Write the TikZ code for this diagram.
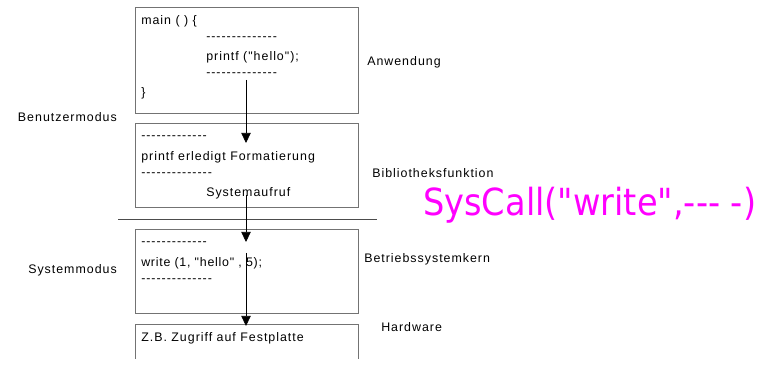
\documentclass[tikz,border=0pt]{standalone}
\usepackage{fontspec}
\setmainfont{Liberation Sans}[Ligatures=TeXOff, LetterSpace=8]
\newfontfamily\handfont{DejaVu Sans}
\usetikzlibrary{arrows.meta}
\definecolor{pen}{RGB}{255,0,255}

\begin{document}
\begin{tikzpicture}[x=0.75pt, y=-0.75pt, font=\fontsize{9.3}{11}\selectfont,
	box/.style={draw=black!55, line width=0.6pt, anchor=north west, minimum width=167.25pt, inner sep=0pt},
	txt/.style={anchor=west, inner sep=0pt},
	flow/.style={-{Triangle[length=7.5pt,width=7pt]}, line width=0.5pt}]
	\useasboundingbox (0,0) rectangle (765,366);
	% Schichten
	\node[box, minimum height=79.5pt] (anw) at (135,7) {};
	\node[box, minimum height=63pt] (bib) at (135,123) {};
	\node[box, minimum height=63pt] (bsk) at (135,229) {};
	\node[box, draw=none, minimum height=25.5pt] (hw) at (135,324) {};
	\draw[draw=black!55, line width=0.6pt] (hw.south west) -- (hw.north west) -- (hw.north east) -- (hw.south east);
	% Trennlinie Benutzer-/Systemmodus
	\coordinate (sepL) at (118,219);
	\coordinate (sepR) at (377,219);
	\draw[black!70, line width=0.7pt] (sepL) -- (sepR);
	% Anwendung
	\node[txt] (main) at (141,21) {main ( ) \{};
	\node[txt] (d1) at (206,39) {--------------};
	\node[txt] (pf) at (206,57) {printf ("hello");};
	\node[txt] (d2) at (206,75) {--------------};
	\node[txt] (cl) at (141,93) {\}};
	% Bibliothek
	\node[txt] (d3) at (141,138) {-------------};
	\node[txt] (fmt) at (141,157) {printf erledigt Formatierung};
	\node[txt] (d4) at (141,175) {--------------};
	\node[txt] (sys) at (206,193) {Systemaufruf};
	% Kern
	\node[txt] (d5) at (141,244) {-------------};
	\node[txt, font=\fontsize{9.3}{11}\selectfont\addfontfeature{LetterSpace=6}] (wr) at (141,263) {write (1, "hello" , 5);};
	\node[txt] (d6) at (141,281) {--------------};
	% Hardware
	\node[txt] (zb) at (141,338) {Z.B. Zugriff auf Festplatte};
	% Ebenen
	\node[txt] (lanw) at (367,62) {Anwendung};
	\node[txt] (lbib) at (372,173) {Bibliotheksfunktion};
	\node[txt] (lbsk) at (364,259) {Betriebssystemkern};
	\node[txt] (lhw) at (381,327) {Hardware};
	\node[anchor=east, inner sep=0pt] (ben) at (117,117) {Benutzermodus};
	\node[anchor=east, inner sep=0pt] (sm) at (117,270) {Systemmodus};
	% Aufrufkette
	\coordinate (a1) at (246,80);
	\coordinate (b1) at (246,143);
	\coordinate (a2) at (246,195);
	\coordinate (b2) at (246,242);
	\coordinate (a3) at (246,253);
	\coordinate (b3) at (246,326);
	\draw[flow] (a1) -- (b1);
	\draw[flow] (a2) -- (b2);
	\draw[flow] (a3) -- (b3);
	% Notiz
	\node[anchor=west, inner sep=0pt, text=pen, xscale=0.9, font=\handfont\fontsize{28}{30}\selectfont] (note) at (423,205) {SysCall("write",--- -)};
\end{tikzpicture}
\end{document}
